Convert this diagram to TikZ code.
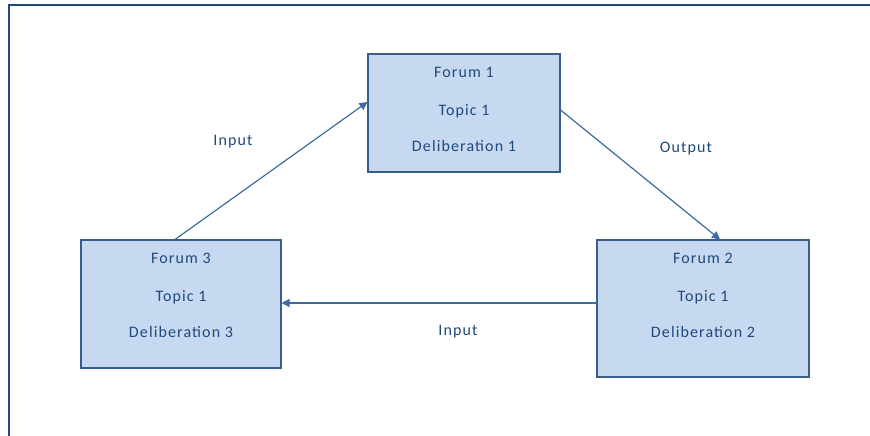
\documentclass[tikz,border=0pt]{standalone}
\usepackage{fontspec}
\setmainfont{Carlito}[LetterSpace=7]
\usetikzlibrary{arrows.meta}
\definecolor{boxfill}{HTML}{C6D9F1}
\definecolor{boxline}{HTML}{385D8A}
\definecolor{txtblue}{HTML}{1F497D}
\definecolor{arrowblue}{HTML}{3E6A9E}
\definecolor{framecol}{HTML}{1F497D}
\begin{document}
\begin{tikzpicture}[x=1pt,y=-1pt,
  forumbox/.style={draw=boxline,fill=boxfill,line width=1.1pt,inner sep=0pt},
  txt/.style={text=txtblue,font=\fontsize{16}{19}\selectfont,inner sep=0pt,anchor=base},
  flow/.style={draw=arrowblue,line width=1.2pt,-{Triangle[length=8pt,width=8pt]}},
  framestyle/.style={draw=framecol,line width=2pt}]
  \useasboundingbox (0,0) rectangle (870,436);
  % outer frame (top and left edges)
  \draw[framestyle] (9,437) -- (9,5) -- (871,5);

  % forums
  \node[forumbox,minimum width=192pt,minimum height=118pt] (f1) at (464,113) {};
  \node[forumbox,minimum width=212pt,minimum height=137pt] (f2) at (703,308.5) {};
  \node[forumbox,minimum width=200pt,minimum height=128pt] (f3) at (181,304) {};

  % box texts
  \node[txt] (f1a) at ([yshift=-24pt]f1.north) {Forum 1};
  \node[txt] (f1b) at ([yshift=-62pt]f1.north) {Topic 1};
  \node[txt] (f1c) at ([yshift=-98pt]f1.north) {Deliberation 1};

  \node[txt] (f2a) at ([yshift=-24pt]f2.north) {Forum 2};
  \node[txt] (f2b) at ([yshift=-62pt]f2.north) {Topic 1};
  \node[txt] (f2c) at ([yshift=-98pt]f2.north) {Deliberation 2};

  \node[txt] (f3a) at ([yshift=-24pt]f3.north) {Forum 3};
  \node[txt] (f3b) at ([yshift=-62pt]f3.north) {Topic 1};
  \node[txt] (f3c) at ([yshift=-98pt]f3.north) {Deliberation 3};

  % connectors
  \draw[flow] ([xshift=-6pt]f3.north) -- ([yshift=11pt]f1.west);
  \draw[flow] ([yshift=3pt]f1.east) -- ([xshift=17pt]f2.north);
  \draw[flow] ([yshift=5.5pt]f2.west) -- ([yshift=1pt]f3.east);

  % connector labels
  \node[txt,anchor=center] (lin1) at (233,142) {Input};
  \node[txt,anchor=center] (lout) at (686,149) {Output};
  \node[txt,anchor=center] (lin2) at (458,332) {Input};
\end{tikzpicture}
\end{document}
